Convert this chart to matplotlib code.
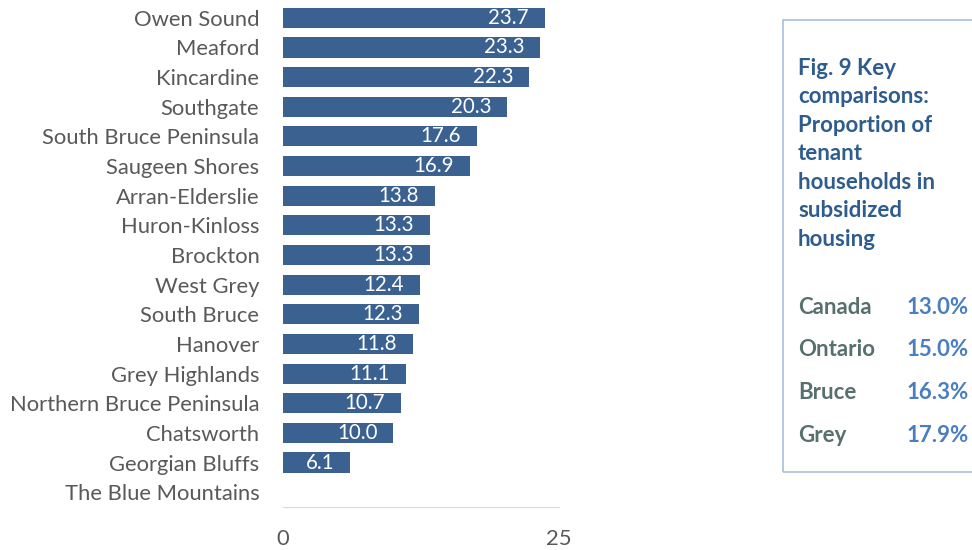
import matplotlib

matplotlib.use("Agg")
import matplotlib.pyplot as plt
from matplotlib.patches import Rectangle

# 数据
places = [
    "Owen Sound", "Meaford", "Kincardine", "Southgate", "South Bruce Peninsula",
    "Saugeen Shores", "Arran-Elderslie", "Huron-Kinloss", "Brockton", "West Grey",
    "South Bruce", "Hanover", "Grey Highlands", "Northern Bruce Peninsula",
    "Chatsworth", "Georgian Bluffs", "The Blue Mountains",
]
values = [23.7, 23.3, 22.3, 20.3, 17.6, 16.9, 13.8, 13.3, 13.3, 12.4,
          12.3, 11.8, 11.1, 10.7, 10.0, 6.1, None]

box_title = "Fig. 9 Key\ncomparisons:\nProportion of\ntenant\nhouseholds in\nsubsidized\nhousing"
regions = ["Canada", "Ontario", "Bruce", "Grey"]
region_pct = ["13.0%", "15.0%", "16.3%", "17.9%"]

BAR = "#3A6190"
GREY = "#595959"

plt.rcParams["font.family"] = ["Lato", "DejaVu Sans"]

W, H = 972, 550
fig = plt.figure(figsize=(W / 100, H / 100), dpi=100)
ax = fig.add_axes([283 / W, 1 - 507 / H, (559 - 283) / W, (507 - 3) / H])

n = len(places)
ys = list(range(n))
for y, v in zip(ys, values):
    if v is None:
        continue
    ax.barh(y, v, height=0.68, color=BAR)
    ax.annotate(f"{v:.1f}", (v, y), xytext=(-16, 0), textcoords="offset pixels",
                ha="right", va="center", color="white", fontsize=14.8)

ax.set_xlim(0, 25)
ax.set_ylim(n - 0.5, -0.5)
ax.set_yticks(ys)
ax.set_yticklabels(places, fontsize=15.8, color=GREY)
ax.set_xticks([0, 25])
ax.set_xticklabels(["0", "25"], fontsize=15.8, color=GREY)
ax.tick_params(length=0, pad=0)
ax.tick_params(axis="y", pad=17)
ax.tick_params(axis="x", pad=16)
for side in ["top", "right", "left"]:
    ax.spines[side].set_visible(False)
ax.spines["bottom"].set_color("#D9D9D9")

# 右侧文本框
fig.patches.append(Rectangle((783 / W, 1 - 472 / H), 200 / W, (472 - 20) / H,
                             transform=fig.transFigure, fill=False,
                             edgecolor="#A7BFDF", linewidth=1.2))
fig.text(798 / W, 1 - 58 / H, box_title, ha="left", va="top", fontsize=16,
         fontweight="bold", color="#2E5C8E", linespacing=1.44)
for i, (r, p) in enumerate(zip(regions, region_pct)):
    y = 1 - (307 + i * 42.7) / H
    fig.text(798 / W, y, r, ha="left", va="center", fontsize=16,
             fontweight="bold", color="#56706E")
    fig.text(907 / W, y, p, ha="left", va="center", fontsize=16,
             fontweight="bold", color="#4A7EBF")

fig.savefig("out.png", dpi=100)
